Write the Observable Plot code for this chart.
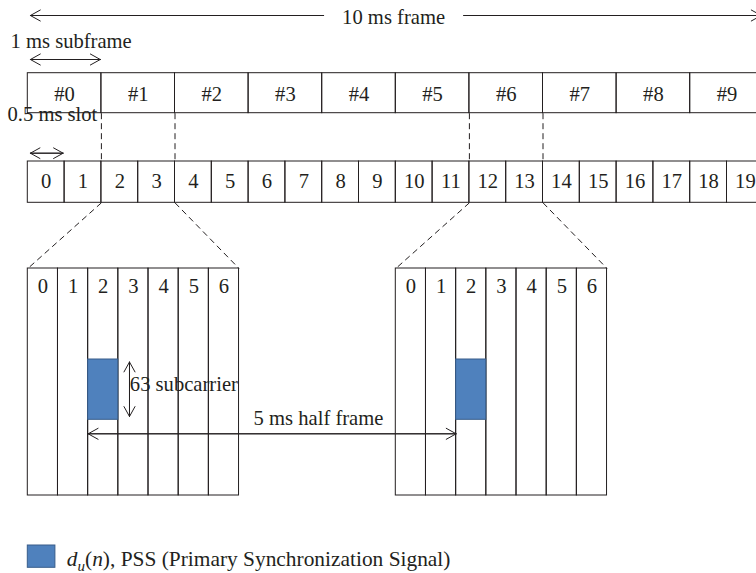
<!DOCTYPE html>
<html><head><meta charset="utf-8">
<script src="https://cdn.jsdelivr.net/npm/d3@7"></script>
<script src="https://cdn.jsdelivr.net/npm/@observablehq/plot@0.6"></script>
<style>
html,body{margin:0;padding:0;background:#fff;overflow:hidden}
svg text{font-family:"Liberation Serif","DejaVu Serif",Times,serif}
</style></head><body><div id="chart"></div>
<script>
// ---------------- data ----------------
const subframes = ["#0","#1","#2","#3","#4","#5","#6","#7","#8","#9"];
const slots = [0,1,2,3,4,5,6,7,8,9,10,11,12,13,14,15,16,17,18,19];
const symbols = [0,1,2,3,4,5,6];
const pssSlots = [2, 12];     // slots that are zoomed in
const pssSymbol = 2;          // OFDM symbol that carries the PSS
const frameLabel = "10 ms frame";
const subframeLabel = "1 ms subframe";
const slotLabel = "0.5 ms slot";
const subcarrierLabel = "63 subcarrier";
const halfFrameLabel = "5 ms half frame";
const legendSymbol = "d", legendSub = "u", legendArg = "n";
const legendText = "PSS (Primary Synchronization Signal)";

// ---------------- layout ----------------
const W = 756, H = 573;
const originPx = 27.3, msPx = 73.6;       // x: milliseconds
const slotMs = 0.5, symMs = 0.41;
const ink = "#231f20";
const font = "'Liberation Serif', 'DejaVu Serif', Times, serif";
const fs = 20.6;

const subRow = [72.7, 112.7], slotRow = [161, 202.3], zoomRow = [268, 495];
const pssRow = [359, 419.3];

const groups = pssSlots.map(s => ({slot: s, start: (s - pssSlots[0]) * slotMs}));
const cells = groups.flatMap(g => symbols.map(k => ({...g, k})));

const dashV = groups.flatMap(g => [g.slot * slotMs, (g.slot + 2) * slotMs]);
const dashD = groups.flatMap(g => [
  {x1: g.slot * slotMs, x2: g.start},
  {x1: (g.slot + 2) * slotMs, x2: g.start + symbols.length * symMs}
]);

const arrows = [];
function dbl(xa, ya, xb, yb) { arrows.push({x1: xa, y1: ya, x2: xb, y2: yb}, {x1: xb, y1: yb, x2: xa, y2: ya}); }
// 10 ms frame (two pieces around the label)
arrows.push({x1: 4.02, y1: 15, x2: 0.035, y2: 15}, {x1: 5.92, y1: 15, x2: 9.965, y2: 15});
dbl(0.035, 59, 0.985, 59);            // 1 ms subframe
dbl(0.035, 152.7, 0.48, 152.7);       // 0.5 ms slot
const subX = groups[0].start + (pssSymbol + 1.37) * symMs;
dbl(subX, 361.5, subX, 416);          // 63 subcarrier
dbl(groups[0].start + pssSymbol * symMs, 433.3, groups[1].start + pssSymbol * symMs, 433.3); // 5 ms

const txt = (extra) => ({fontFamily: font, fontSize: fs, fill: ink, lineAnchor: "bottom", ...extra});

const chart = Plot.plot({
  width: W, height: H, margin: 0,
  x: {domain: [-originPx / msPx, (W - originPx) / msPx], range: [0, W], axis: null},
  y: {domain: [0, H], range: [0, H], axis: null},
  style: {background: "#fff", fontFamily: font},
  marks: [
    // subframe row
    Plot.rect(subframes, {x1: (d, i) => i, x2: (d, i) => i + 1, y1: subRow[0], y2: subRow[1], fill: "none", stroke: ink, strokeWidth: 1, clip: true}),
    Plot.text(subframes, txt({x: (d, i) => i + 0.5, y: 100.5, text: d => d})),
    // slot row
    Plot.rect(slots, {x1: d => d * slotMs, x2: d => (d + 1) * slotMs, y1: slotRow[0], y2: slotRow[1], fill: "none", stroke: ink, strokeWidth: 1, clip: true}),
    Plot.text(slots, txt({x: d => (d + 0.5) * slotMs, y: 187, text: d => String(d)})),
    // dashed guides
    Plot.link(dashV, {x1: d => d, x2: d => d, y1: subRow[1], y2: slotRow[0], stroke: ink, strokeWidth: 1, strokeDasharray: "6,4"}),
    Plot.link(dashD, {x1: "x1", x2: "x2", y1: slotRow[1], y2: zoomRow[0], stroke: ink, strokeWidth: 1, strokeDasharray: "6,4"}),
    // zoomed symbol grids
    Plot.rect(cells, {x1: d => d.start + d.k * symMs, x2: d => d.start + (d.k + 1) * symMs, y1: zoomRow[0], y2: zoomRow[1], fill: "none", stroke: ink, strokeWidth: 1}),
    Plot.text(cells, txt({x: d => d.start + (d.k + 0.5) * symMs, y: 292.5, text: d => String(d.k)})),
    // PSS blocks
    Plot.rect(groups, {x1: d => d.start + pssSymbol * symMs, x2: d => d.start + (pssSymbol + 1) * symMs, y1: pssRow[0], y2: pssRow[1], fill: "#4f81bd", stroke: "#385d8a", strokeWidth: 1}),
    // arrows
    Plot.arrow(arrows, {x1: "x1", y1: "y1", x2: "x2", y2: "y2", stroke: ink, strokeWidth: 1, headLength: 17, headAngle: 58}),
    // labels
    Plot.text([frameLabel], txt({x: 4.97, y: 23.5, text: d => d})),
    Plot.text([subframeLabel], txt({x: -0.235, y: 47, text: d => d, textAnchor: "start"})),
    Plot.text([slotLabel], txt({x: -0.276, y: 120.5, text: d => d, textAnchor: "start"})),
    Plot.text([subcarrierLabel], txt({x: subX + 0.005, y: 390, text: d => d, textAnchor: "start"})),
    Plot.text([halfFrameLabel], txt({x: 3.95, y: 424.5, text: d => d})),
    // legend
    Plot.rect([legendText], {x1: 0, x2: 0.375, y1: 545, y2: 567.3, fill: "#4f81bd", stroke: "#385d8a", strokeWidth: 1}),
    Plot.text([legendText], txt({x: 0.53, y: 565.5, fontSize: 21.4, text: d => d, textAnchor: "start"}))
  ]
});
document.getElementById("chart").appendChild(chart);

// rich legend text: d_u(n), PSS (...)
const NS = "http://www.w3.org/2000/svg";
for (const t of chart.querySelectorAll("text")) {
  if (t.textContent !== legendText) continue;
  t.textContent = "";
  const parts = [
    {s: legendSymbol, it: true},
    {s: legendSub, it: true, size: 15, dy: 5},
    {s: "(", dy: -5},
    {s: legendArg, it: true},
    {s: "), " + legendText}
  ];
  for (const p of parts) {
    const ts = document.createElementNS(NS, "tspan");
    ts.textContent = p.s;
    if (p.it) ts.setAttribute("font-style", "italic");
    if (p.size) ts.setAttribute("font-size", p.size);
    if (p.dy) ts.setAttribute("dy", p.dy);
    t.appendChild(ts);
  }
}
</script></body></html>
